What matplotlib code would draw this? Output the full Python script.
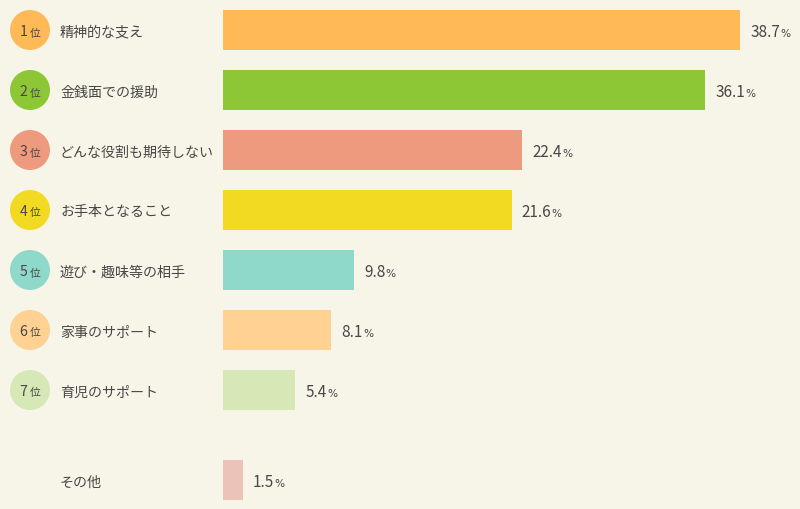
import matplotlib
matplotlib.use("Agg")
import matplotlib.pyplot as plt
import matplotlib.transforms as mtransforms
import numpy as np

plt.rcParams['font.family'] = ['Noto Sans CJK JP', 'DejaVu Sans']

categories = ["精神的な支え", "金銭面での援助", "どんな役割も期待しない", "お手本となること",
              "遊び・趣味等の相手", "家事のサポート", "育児のサポート", "その他"]
values = [38.7, 36.1, 22.4, 21.6, 9.8, 8.1, 5.4, 1.5]
ranks = ["1", "2", "3", "4", "5", "6", "7", ""]
colors = ["#FFB957", "#8EC736", "#EE9A7E", "#F2DA22", "#8FD9CA", "#FFD193", "#D6E8B5", "#EEC3B7"]

bg = "#F7F4E8"
txt = "#474747"
W, H, DPI = 800, 510, 100

fig = plt.figure(figsize=(W / DPI, H / DPI), dpi=DPI, facecolor=bg)
ax = fig.add_axes([0, 0, 1, 1])
ax.set_facecolor(bg)

px_per_pct = 13.36
x0 = 223
row_px = 60
shift = 1 / row_px
ax.set_xlim(-x0 / px_per_pct, (W - x0) / px_per_pct)
ax.set_ylim(8.0 - shift, -0.5 - shift)
ax.axis("off")

ypos = np.array(list(range(7)) + [7.5])
ax.barh(ypos, values, height=40 / 60, color=colors, left=0)

fx = mtransforms.blended_transform_factory(fig.transFigure, ax.transData)

for i, (y, cat, v, r, c) in enumerate(zip(ypos, categories, values, ranks, colors)):
    if r:
        ax.scatter([30 / W], [y], s=(40 * 72 / DPI) ** 2, color=c, transform=fx,
                   edgecolors="none", zorder=3)
        ax.text(27.5 / W, y + 5.5 / row_px, r, transform=fx, ha="right", va="baseline",
                fontsize=10.2, color=txt, zorder=4)
        ax.text(29.5 / W, y + 5.5 / row_px, "位", transform=fx, ha="left", va="baseline",
                fontsize=7.8, color=txt, zorder=4)
    ax.text(60 / W, y + 1.5 / row_px, cat, transform=fx, ha="left", va="center",
            fontsize=10.1, color=txt)
    t = ax.annotate(f"{v:.1f}", xy=(v, y + 5.7 / row_px), xytext=(10 * 72 / DPI, 0),
                    textcoords="offset points", ha="left", va="baseline",
                    fontsize=11, color=txt)
    fig.canvas.draw()
    bb = t.get_window_extent()
    ax.annotate("%", xy=(v, y + 5.7 / row_px),
                xytext=((bb.x1 - ax.transData.transform((v, 0))[0] + 0.5) * 72 / DPI, 0),
                textcoords="offset points", ha="left", va="baseline",
                fontsize=7.6, color=txt, family="DejaVu Sans")

fig.savefig("out.png", dpi=DPI, facecolor=bg)
